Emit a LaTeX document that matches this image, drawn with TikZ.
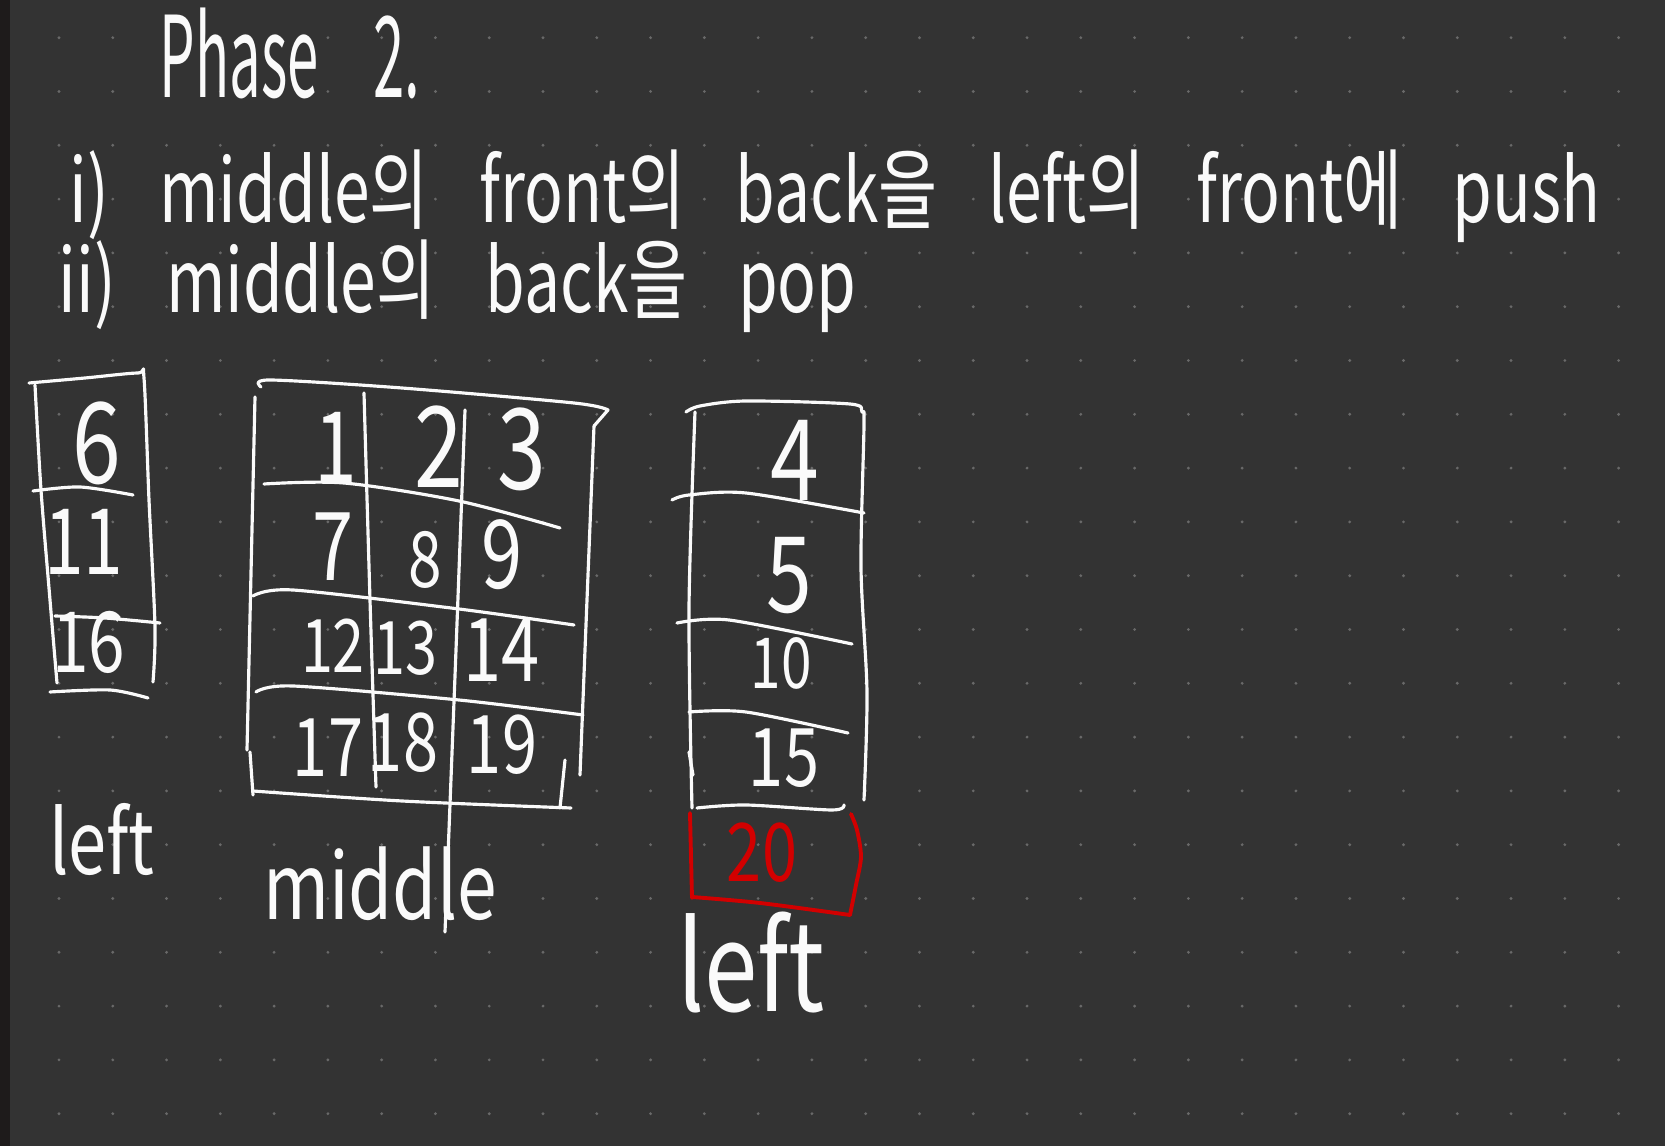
\documentclass[tikz,border=0pt]{standalone}
\usepackage{fontspec}
\usetikzlibrary{calc}
\newfontfamily\hand[FakeStretch=0.78]{Noto Sans CJK KR}
\newfontfamily\handline[FakeStretch=0.73,WordSpace=3.5]{Noto Sans CJK KR}
\newfontfamily\handtitle[FakeStretch=0.5]{Noto Sans CJK KR}
\newcommand{\handfs}[1]{\hand\fontsize{#1}{#1}\selectfont}
\definecolor{board}{RGB}{51,51,51}
\definecolor{boardedge}{RGB}{30,27,27}
\definecolor{dotgray}{RGB}{105,105,105}
\definecolor{pen}{RGB}{250,250,250}
\definecolor{redpen}{RGB}{210,0,0}
\tikzset{
	stroke/.style={draw=pen, line width=0.9pt, line cap=round, line join=round},
	redstroke/.style={draw=redpen, line width=1.1pt, line cap=round, line join=round},
	ink/.style={text=pen, inner sep=0pt},
}

\begin{document}
\begin{tikzpicture}[x=0.01cm, y=-0.01cm]
\tikzstyle{every node}=[ink]

	\fill[board] (0,0) rectangle (1665,1146);
	\fill[boardedge] (0,0) rectangle (10,1146);
	\useasboundingbox (0,0) rectangle (1665,1146);

	\foreach \i in {0,1,...,29} {
		\foreach \j in {0,1,...,20} {
			\fill[dotgray] ({59+53.78*\i},{37.7+53.8*\j}) circle (0.45pt);
		}
	}

	\node[anchor=base west, font=\handtitle\fontsize{32}{32}\selectfont] (phase) at (159,98) {Phase\hspace{12pt} 2.};
	\node[anchor=base west, font=\handline\fontsize{25}{25}\selectfont] (stepi) at (69,223)
		{i) middle의 front의 back을 left의 front에 push};
	\node[anchor=base west, font=\handline\fontsize{25}{25}\selectfont] (stepii) at (58,313)
		{ii) middle의 back을 pop};

	% left
	\draw[stroke] plot[smooth] coordinates {(29,383) (85,378) (138,373) (144,378) (149,500) (155,627) (153,682)};
	\draw[stroke] plot[smooth] coordinates {(35,385) (41,490) (50,600) (57,683)};
	\draw[stroke] plot[smooth] coordinates {(33,491) (80,487) (133,495)};
	\draw[stroke] plot[smooth] coordinates {(55,616) (105,618) (160,623)};
	\draw[stroke] plot[smooth] coordinates {(50,692) (110,690) (148,698)};
	\node[font=\handfs{32}] (lsix) at (97,443) {6};
	\node[font=\handfs{26}] (leleven) at (84,542) {11};
	\node[font=\handfs{24}] (lsixteen) at (89,642) {16};
	\node[font=\handfs{25}] (lefta) at (102,840) {left};

	% middle
	\draw[stroke] plot[smooth] coordinates {(261,387) (270,380) (402,388) (574,403) (608,410)} -- (594,426);
	\draw[stroke] (255,397) -- (247,750);
	\draw[stroke] (250,752) -- (253,795);
	\draw[stroke] plot[smooth] coordinates {(594,426) (587,600) (580,775)};
	\draw[stroke] plot[smooth] coordinates {(253,791) (402,801) (571,808)};
	\draw[stroke] (565,760) -- (560,808);
	\draw[stroke] plot[smooth] coordinates {(364,393) (370,600) (376,787)};
	\draw[stroke] plot[smooth] coordinates {(465,410) (456,650) (445,932)};
	\draw[stroke] plot[smooth] coordinates {(264,484) (344,483) (459,501) (560,528)};
	\draw[stroke] plot[smooth] coordinates {(253,596) (293,590) (459,609) (574,625)};
	\draw[stroke] plot[smooth] coordinates {(256,692) (293,686) (459,700) (583,715)};
	\foreach \t/\px/\py/\s in {1/336/447/28, 2/439/447/32, 3/522/449/32,
		7/333/547/27, 8/425/560/22, 9/502/555/27,
		12/333/646/21, 13/405/648/21, 14/502/650/25,
		17/328/748/23, 18/403/743/23, 19/502/745/23} {
		\node[font=\handfs{\s}] (m\t) at (\px,\py) {\t};
	}
	\node[font=\handfs{26}] (midlabel) at (380,884) {middle};

	% left after push
	\draw[stroke] plot[smooth] coordinates {(686,412) (700,406) (746,401) (850,404) (862,412) (864,425) (861,567) (867,692) (864,800)};
	\draw[stroke] plot[smooth] coordinates {(695,412) (689,609) (692,808)};
	\draw[stroke] (689,752) -- (693,775);
	\draw[stroke] plot[smooth] coordinates {(672,500) (689,495) (746,493) (864,513)};
	\draw[stroke] plot[smooth] coordinates {(677,623) (729,620) (852,644)};
	\draw[stroke] plot[smooth] coordinates {(689,712) (746,712) (848,733)};
	\draw[stroke] plot[smooth] coordinates {(697,808) (746,805) (832,810) (844,805)};
	\node[font=\handfs{32}] (rfour) at (795,460) {4};
	\node[font=\handfs{30}] (rfive) at (789,576) {5};
	\node[font=\handfs{20}] (rten) at (781,663) {10};
	\node[font=\handfs{23}] (rfifteen) at (784,758) {15};
	\draw[redstroke] (690,813) -- (692,898);
	\draw[redstroke] plot[smooth] coordinates {(692,897) (760,903) (850,915)};
	\draw[redstroke] plot[smooth] coordinates {(850,915) (856,885) (861,857) (857,830) (851,814)};
	\node[font=\handfs{23}, text=redpen] (rtwenty) at (762,853) {20};
	\node[font=\handfs{35}] (leftb) at (751,963) {left};
\end{tikzpicture}
\end{document}
